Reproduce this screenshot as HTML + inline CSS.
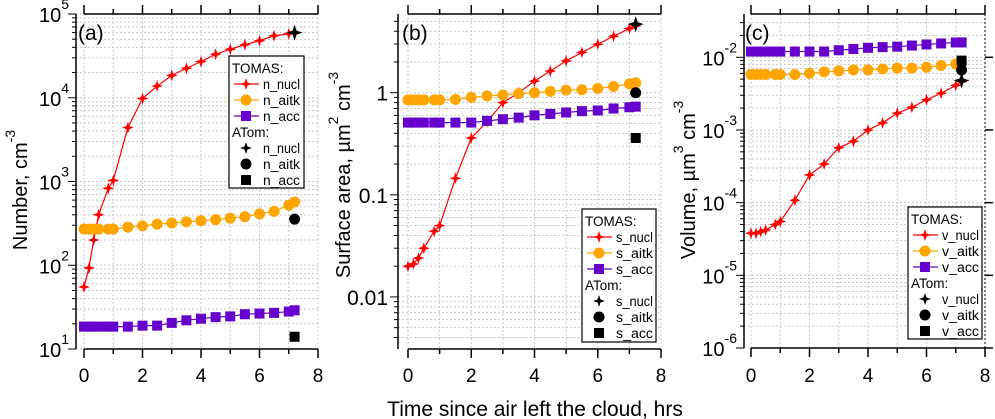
<!DOCTYPE html>
<html><head><meta charset="utf-8"><style>
body{margin:0;background:#fff}
svg{display:block;font-family:"Liberation Sans",Arial,sans-serif}
</style></head><body>
<svg id="fig" width="995" height="419" viewBox="0 0 995 419"></svg>
<script>
const xs = [0,0.17,0.33,0.5,0.83,1,1.5,2,2.5,3,3.5,4,4.5,5,5.5,6,6.5,7,7.2];
const atomX = 7.2;
const nNucl = [55,93,200,400,830,1030,4400,9800,13800,18500,22500,27000,33000,38000,43000,48000,55000,58000,60000];
const nAitk = [270,270,270,270,270,270,285,295,310,320,330,340,350,365,380,410,440,520,570];
const nAcc = [18.5,18.5,18.5,18.5,18.5,18.5,18.5,19,19,20.5,22,23,24,24.5,26,26.5,27,28,29];
const nAtom = [60000,355,14];
const sNucl = [0.020,0.021,0.024,0.030,0.044,0.050,0.145,0.36,0.52,0.8,1.0,1.3,1.63,2.05,2.48,2.99,3.58,4.25,4.5];
const sAitk = [0.85,0.85,0.85,0.85,0.85,0.85,0.86,0.9,0.93,0.95,0.98,1.0,1.03,1.06,1.07,1.1,1.15,1.22,1.25];
const sAcc = [0.51,0.51,0.51,0.51,0.51,0.51,0.51,0.51,0.53,0.55,0.57,0.6,0.62,0.64,0.66,0.67,0.7,0.72,0.73];
const sAtom = [4.7,1.0,0.36];
const vNucl = [3.8e-5,3.8e-5,4e-5,4.2e-5,5e-5,5.5e-5,1.08e-4,2.4e-4,3.4e-4,5.7e-4,7e-4,1e-3,1.25e-3,1.7e-3,2.05e-3,2.6e-3,3.2e-3,4.1e-3,4.6e-3];
const vAitk = [5.8e-3,5.8e-3,5.8e-3,5.8e-3,5.8e-3,5.8e-3,5.8e-3,6.0e-3,6.3e-3,6.5e-3,6.7e-3,6.7e-3,6.9e-3,7.1e-3,7.1e-3,7.3e-3,7.7e-3,8.1e-3,8.3e-3];
const vAcc = [1.2e-2,1.2e-2,1.2e-2,1.2e-2,1.2e-2,1.2e-2,1.2e-2,1.2e-2,1.2e-2,1.25e-2,1.3e-2,1.35e-2,1.38e-2,1.4e-2,1.45e-2,1.5e-2,1.55e-2,1.6e-2,1.6e-2];
const vAtom = [4.8e-3,6.7e-3,9e-3];
const xTicks = [0,2,4,6,8];

const NS="http://www.w3.org/2000/svg";
const svg=document.getElementById('fig');
function mk(tag,attrs,parent){const e=document.createElementNS(NS,tag);for(const k in attrs)e.setAttribute(k,attrs[k]);(parent||svg).appendChild(e);return e;}

const panels=[
 {id:'a',off:0,spine:76,x0:84,x8:318,top:14,bot:349,ymin:1,ymax:5,label:'(a)',pre:'n',
  data:[nNucl,nAitk,nAcc],atom:nAtom,ticks:[1,2,3,4,5],tickFmt:'exp',
  leg:{x:229,y:56,w:75,h:132},title:['Number, cm','-3'],tx:27,cy:190},
 {id:'b',off:330,spine:398,x0:408,x8:661,top:14,bot:349,ymin:Math.log10(0.00309),ymax:Math.log10(5.9),label:'(b)',pre:'s',
  data:[sNucl,sAitk,sAcc],atom:sAtom,ticks:[-2,-1,0],tickFmt:'dec',
  leg:{x:582,y:209,w:74,h:133},title:['Surface area, µm','2',' cm','-3'],tx:350,cy:175},
 {id:'c',off:660,spine:744,x0:751,x8:985,top:14,bot:348,ymin:-6,ymax:-2+43.3/72.7,label:'(c)',pre:'v',
  data:[vNucl,vAitk,vAcc],atom:vAtom,ticks:[-6,-5,-4,-3,-2],tickFmt:'exp',
  leg:{x:908,y:207,w:74,h:132},title:['Volume, µm','3',' cm','-3'],tx:695,cy:180}
];
const colors=['#ff0000','#ffa500','#6600cc'];
const names=['nucl','aitk','acc'];

function star(g,cx,cy,r,fill,name){
 const p=[];for(let i=0;i<8;i++){const a=i*Math.PI/4-Math.PI/2;const rr=i%2?r*0.35:r;p.push((cx+rr*Math.cos(a)).toFixed(1)+','+(cy+rr*Math.sin(a)).toFixed(1));}
 const e=mk('polygon',{points:p.join(' '),fill:fill},g);
 
 
 return e;
}
function marker(g,k,cx,cy,col,name,big){
 let e;
 if(k===0){return star(g,cx,cy,big?8:6,col,name);}
 if(k===1){e=mk('circle',{cx:cx,cy:cy,r:5.5,fill:col},g);}
 else{const s=10;e=mk('rect',{x:cx-s/2,y:cy-s/2,width:s,height:s,fill:col},g);}
 
 
 return e;
}

panels.forEach(P=>{
 const g=mk('g',{});
 
 
 const X=v=>P.x0+(P.x8-P.x0)*v/8;
 const Y=v=>P.bot-(P.bot-P.top)*(Math.log10(v)-P.ymin)/(P.ymax-P.ymin);
 const YL=l=>P.bot-(P.bot-P.top)*(l-P.ymin)/(P.ymax-P.ymin);
 const grid=mk('g',{stroke:'#c8c8c8','stroke-width':1,'stroke-dasharray':'2,2'},g);
 
 
 for(let i=0;i<=8;i++){mk('line',{x1:X(i),x2:X(i),y1:P.top,y2:P.bot},grid);}
 for(let d=Math.floor(P.ymin);d<=Math.ceil(P.ymax);d++){
  for(let m=1;m<10;m++){const l=d+Math.log10(m);if(l<P.ymin-1e-6||l>P.ymax+1e-6)continue;
   const y=YL(l);mk('line',{x1:P.spine,x2:P.x8,y1:y,y2:y},grid);
   mk('line',{x1:P.spine,x2:P.spine-(m===1?8:4),y1:y,y2:y,stroke:'#000','stroke-dasharray':'none'},grid);
  }
 }
 const ax=mk('g',{stroke:'#000','stroke-width':1.5},g);
 
 
 mk('line',{x1:P.spine,x2:P.spine,y1:P.top,y2:P.bot},ax);
 mk('line',{x1:X(0),x2:X(8),y1:P.top,y2:P.top},ax);
 mk('line',{x1:X(0),x2:X(8),y1:P.bot,y2:P.bot},ax);
 for(let i=0;i<=8;i++){mk('line',{x1:X(i),x2:X(i),y1:P.top,y2:P.top-(i%2?5:9)},ax);mk('line',{x1:X(i),x2:X(i),y1:P.bot,y2:P.bot+(i%2?5:9)},ax);}
 if(P.id==='c'){mk('line',{x1:P.x8,x2:P.x8,y1:P.top,y2:P.bot,'stroke-dasharray':'2,2','stroke-width':1},ax);
  for(let d=-6;d<=-2;d++){mk('line',{x1:P.x8,x2:P.x8+8,y1:YL(d),y2:YL(d)},ax);}}
 xTicks.forEach(t=>{const e=mk('text',{x:X(t),y:382,'font-size':19,'text-anchor':'middle'},g);e.textContent=t;
  });
 P.ticks.forEach(t=>{const y=YL(t);let e;
  if(P.tickFmt==='exp'){e=mk('text',{x:P.spine-7,y:y+8,'font-size':20,'text-anchor':'end'},g);
   const b=mk('tspan',{},e);b.textContent='10';const s=mk('tspan',{dy:-13,'font-size':14},e);s.textContent=t;
  }else{e=mk('text',{x:P.spine-10,y:y+8,'font-size':21,'text-anchor':'end'},g);e.textContent=[0.01,0.1,1][t+2];}
  });
 const pl=mk('text',{x:P.x0-6,y:40,'font-size':21},g);pl.textContent=P.label;
 
 const tt=mk('text',{x:0,y:0,'font-size':20,'text-anchor':'middle',transform:`translate(${P.tx},${P.cy}) rotate(-90)`},g);
 P.title.forEach((s,i)=>{const sp=mk('tspan',i%2?{dy:-12,'font-size':14}:{dy:i?12:0},tt);sp.textContent=s;});
 
 P.data.forEach((arr,k)=>{
  const sg=mk('g',{},g);
  
  
  mk('polyline',{points:arr.map((v,i)=>X(xs[i])+','+Y(v)).join(' '),fill:'none',stroke:colors[k],'stroke-width':1.2},sg);
  arr.forEach((v,i)=>marker(sg,k,X(xs[i]),Y(v),colors[k],'point'));
 });
 P.atom.forEach((v,k)=>marker(g,k,X(atomX),Y(v),'#000','atom-'+P.pre+'-'+names[k],true));
 const L=P.leg;const lg=mk('g',{},g);
 
 mk('rect',{x:L.x,y:L.y,width:L.w,height:L.h,fill:'#fff',stroke:'#000','stroke-width':1.2},lg);
 const rows=['TOMAS:',0,1,2,'ATom:',0,1,2];
 rows.forEach((r,i)=>{const y=L.y+17+i*16;
  if(typeof r==='string'){const t=mk('text',{x:L.x+3,y:y,'font-size':13.5},lg);t.textContent=r;return;}
  const atom=i>4;const cx=L.x+17;
  if(!atom)mk('line',{x1:L.x+5,x2:L.x+30,y1:y-5,y2:y-5,stroke:colors[r],'stroke-width':1.2},lg);
  marker(lg,r,cx,y-5,atom?'#000':colors[r],'legend-marker');
  const t=mk('text',{x:L.x+34,y:y,'font-size':13.5,textLength:37,lengthAdjust:'spacingAndGlyphs'},lg);t.textContent=P.pre+'_'+names[r];
  
 });
});
const xt=mk('text',{x:535,y:416,'font-size':21,'text-anchor':'middle'});
xt.textContent='Time since air left the cloud, hrs';


</script>
</body></html>
